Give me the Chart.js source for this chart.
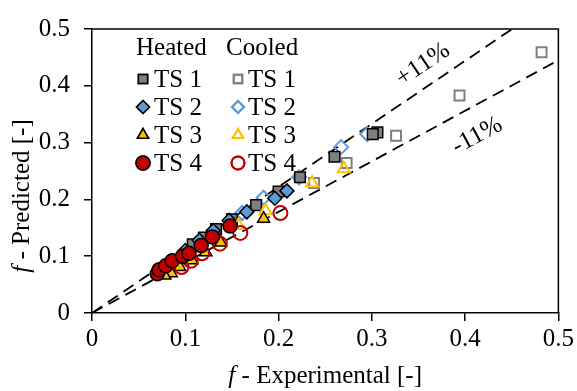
<!DOCTYPE html>
<html lang="en">
<head>
    <meta charset="UTF-8">
    <script src="https://cdn.jsdelivr.net/npm/chart.js"></script>
    <title>f Predicted vs Experimental</title>
    <style>
        html, body { margin: 0; padding: 0; background: #fff; }
        #wrap { width: 577px; height: 391px; }
    </style>
</head>
<body>
    <div id="wrap">
        <canvas id="myChart" width="577" height="391"></canvas>
    </div>

    <script>
        // [experimental, predicted] pairs
        const heated1 = [[0.306,0.318],[0.301,0.315],[0.260,0.275],[0.223,0.239],[0.200,0.214],[0.176,0.190],[0.150,0.165],[0.133,0.148],[0.120,0.133],[0.108,0.121]];
        const heated2 = [[0.209,0.215],[0.196,0.202],[0.166,0.178],[0.147,0.163],[0.130,0.145],[0.115,0.128],[0.100,0.110]];
        const heated3 = [[0.184,0.166],[0.138,0.124],[0.122,0.107],[0.107,0.093],[0.094,0.081],[0.085,0.070],[0.078,0.066]];
        const heated4 = [[0.070,0.069],[0.072,0.076],[0.079,0.083],[0.086,0.092],[0.097,0.100],[0.104,0.105],[0.117,0.119],[0.129,0.134],[0.148,0.153]];
        const cooled1 = [[0.482,0.459],[0.394,0.383],[0.326,0.312],[0.273,0.264],[0.238,0.229]];
        const cooled2 = [[0.295,0.315],[0.267,0.292],[0.222,0.239],[0.184,0.203],[0.161,0.176]];
        const cooled3 = [[0.270,0.254],[0.236,0.229],[0.186,0.180],[0.157,0.154]];
        const cooled4 = [[0.202,0.176],[0.159,0.141],[0.137,0.122],[0.118,0.105],[0.106,0.092],[0.096,0.081]];

        const lineX = [0, 0.5];
        const plusLine = [0, 0.555];
        const minusLine = [0, 0.445];
        const ticks = [0, 0.1, 0.2, 0.3, 0.4, 0.5];

        const serif = 'Liberation Serif';
        const fontPx = 25;
        const gray = '#7f7f7f', blue = '#5b9bd5', yellow = '#ffc000', red = '#c00000';

        const pts = arr => arr.map(p => ({x: p[0], y: p[1]}));

        function filled(label, data, style, color, r) {
            return { label, data: pts(data), showLine: false, pointStyle: style, pointRadius: r,
                backgroundColor: color, borderColor: '#000', pointBorderWidth: 1.5 };
        }
        function open(label, data, style, color, r) {
            return { label, data: pts(data), showLine: false, pointStyle: style, pointRadius: r,
                backgroundColor: 'rgba(0,0,0,0)', borderColor: color, pointBorderWidth: 2 };
        }
        function dashed(label, ys) {
            return { label, type: 'line', data: lineX.map((x, i) => ({x, y: ys[i]})),
                borderColor: '#000', borderWidth: 1.8, borderDash: [12, 7], pointRadius: 0, fill: false };
        }

        // first dataset is drawn on top
        const datasets = [
            filled('Heated TS 4', heated4, 'circle', red, 7),
            open('Cooled TS 4', cooled4, 'circle', red, 7),
            filled('Heated TS 3', heated3, 'triangle', yellow, 7),
            open('Cooled TS 3', cooled3, 'triangle', yellow, 7),
            filled('Heated TS 2', heated2, 'rectRot', blue, 7),
            filled('Heated TS 1', heated1, 'rect', gray, 7.5),
            open('Cooled TS 2', cooled2, 'rectRot', blue, 7),
            open('Cooled TS 1', cooled1, 'rect', gray, 7),
            dashed('+11%', plusLine),
            dashed('-11%', minusLine)
        ];

        // legend, frame, axis titles and line labels
        const extras = {
            id: 'extras',
            afterDraw(chart) {
                const ctx = chart.ctx;
                const a = chart.chartArea;
                const xs = chart.scales.x, ys = chart.scales.y;
                const f = fontPx + 'px "' + serif + '"';
                ctx.save();
                ctx.strokeStyle = '#000';
                ctx.lineWidth = 1.5;
                ctx.beginPath();
                ctx.moveTo(a.left, a.top);
                ctx.lineTo(a.right, a.top);
                ctx.lineTo(a.right, a.bottom);
                ctx.stroke();

                ctx.fillStyle = '#000';
                ctx.font = f;
                ctx.textBaseline = 'middle';

                // legend
                ctx.textAlign = 'left';
                ctx.fillText('Heated', 136, 48);
                ctx.fillText('Cooled', 226, 48);
                const rows = [['TS 1','rect',gray,6.5],['TS 2','rectRot',blue,6.5],['TS 3','triangle',yellow,6.5],['TS 4','circle',red,7]];
                rows.forEach((r, i) => {
                    const y = 79 + i * 28;
                    ctx.fillStyle = r[2]; ctx.strokeStyle = '#000'; ctx.lineWidth = 1.5;
                    Chart.helpers.drawPoint(ctx, {pointStyle: r[1], radius: r[3], borderWidth: 1.5}, 143, y);
                    ctx.fill(); ctx.stroke();
                    ctx.fillStyle = 'rgba(0,0,0,0)'; ctx.strokeStyle = r[2]; ctx.lineWidth = 2;
                    Chart.helpers.drawPoint(ctx, {pointStyle: r[1], radius: r[3] - 0.5, borderWidth: 2}, 238, y);
                    ctx.stroke();
                    ctx.fillStyle = '#000';
                    ctx.fillText(r[0], 154, y + 1);
                    ctx.fillText(r[0], 248, y + 1);
                });

                // rotated line labels
                const label = (txt, x, y, slope) => {
                    const px = xs.getPixelForValue(x), py = ys.getPixelForValue(y);
                    const ang = Math.atan2(ys.getPixelForValue(0) - ys.getPixelForValue(slope * 0.1),
                                           xs.getPixelForValue(0.1) - xs.getPixelForValue(0));
                    ctx.save();
                    ctx.translate(px, py);
                    ctx.rotate(-ang);
                    ctx.textAlign = 'center';
                    ctx.fillText(txt, 0, 0);
                    ctx.restore();
                };
                label('+11%', 0.355, 0.437, plusLine[1] / lineX[1]);
                label('-11%', 0.413, 0.312, minusLine[1] / lineX[1]);

                // axis titles with italic f
                const title = (main, cx, cy) => {
                    ctx.font = 'italic ' + f;
                    const wf = ctx.measureText('f').width;
                    ctx.font = f;
                    const wm = ctx.measureText(main).width;
                    const start = cx - (wf + wm) / 2;
                    ctx.textAlign = 'left';
                    ctx.font = 'italic ' + f;
                    ctx.fillText('f', start, cy);
                    ctx.font = f;
                    ctx.fillText(main, start + wf, cy);
                };
                title(' - Experimental [-]', (a.left + a.right) / 2, 376);
                ctx.save();
                ctx.translate(22, 196);
                ctx.rotate(-Math.PI / 2);
                title(' - Predicted [-]', 0, 0);
                ctx.restore();
                ctx.restore();
            }
        };

        const axisCommon = {
            type: 'linear',
            min: 0, max: 0.5,
            border: { display: true, color: '#000', width: 1.5 },
            grid: { display: true, drawOnChartArea: false, drawTicks: true, tickLength: 8, color: '#000', lineWidth: 1.5 },
            afterBuildTicks: s => { s.ticks = ticks.map(v => ({value: v})); }
        };

        new Chart(document.getElementById('myChart').getContext('2d'), {
            type: 'scatter',
            data: { datasets },
            options: {
                responsive: false,
                animation: false,
                layout: { padding: { top: 18, right: 15, left: 0, bottom: 0 } },
                scales: {
                    x: Object.assign({}, axisCommon, {
                        ticks: { color: '#000', font: { family: serif, size: fontPx }, padding: 3, maxRotation: 0,
                                 callback: v => String(Number(v.toFixed(1))) },
                        afterFit: s => { s.height = 78; }
                    }),
                    y: Object.assign({}, axisCommon, {
                        ticks: { color: '#000', font: { family: serif, size: fontPx }, padding: 14,
                                 callback: v => String(Number(v.toFixed(1))) },
                        afterFit: s => { s.width = 92; }
                    })
                },
                plugins: {
                    legend: { display: false },
                    tooltip: { enabled: false }
                }
            },
            plugins: [extras]
        });
    </script>
</body>
</html>
